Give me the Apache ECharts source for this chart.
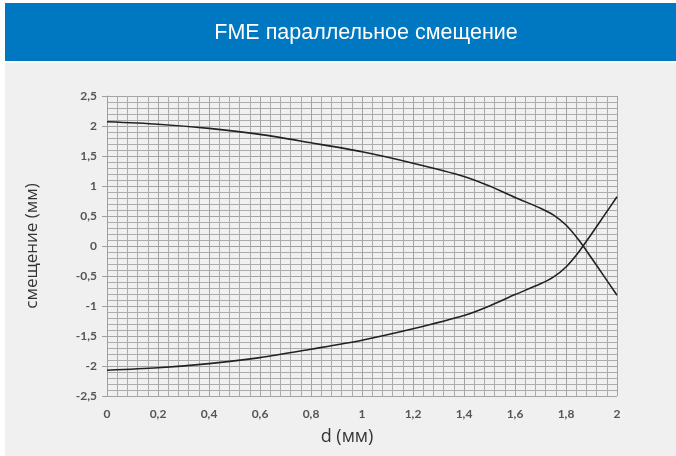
<!DOCTYPE html>
<html>
<head>
<meta charset="utf-8">
<script src="https://cdn.jsdelivr.net/npm/echarts@6/dist/echarts.min.js"></script>
<style>
html,body{margin:0;padding:0;background:#ffffff;}
#c{width:676px;height:456px;}
</style>
</head>
<body>
<div id="c"></div>
<script>
const titleText = "FME параллельное смещение";
const xName = "d (мм)";
const yName = "смещение (мм)";
const dValues = [0, 0.2, 0.4, 0.6, 0.8, 1.0, 1.2, 1.4, 1.5, 1.6, 1.7, 1.75, 1.8, 1.85, 1.9, 1.95, 2.0];
const upperValues = [2.07, 2.03, 1.96, 1.86, 1.72, 1.57, 1.38, 1.16, 1.00, 0.81, 0.63, 0.52, 0.35, 0.10, -0.20, -0.51, -0.82];
const lowerValues = [-2.07, -2.03, -1.96, -1.86, -1.72, -1.57, -1.38, -1.16, -1.00, -0.81, -0.63, -0.52, -0.35, -0.10, 0.20, 0.51, 0.82];

const chart = echarts.init(document.getElementById('c'));
const fmt = v => String(Math.round(v * 10) / 10).replace('.', ',');
const pairs = arr => dValues.map((d, i) => [d, arr[i]]);

chart.setOption({
  backgroundColor: '#ffffff',
  animation: false,
  graphic: [
    { type: 'rect', z: -10, shape: { x: 5, y: 63, width: 671, height: 393 }, style: { fill: '#f0f0f0' } },
    { type: 'rect', z: -10, shape: { x: 5, y: 3, width: 671, height: 58 }, style: { fill: '#0077c1' } },
    { type: 'text', z: 10, x: 366, y: 33,
      style: { text: titleText, fill: '#ffffff', align: 'center', verticalAlign: 'middle',
               font: '21.5px "Liberation Sans", Arial, sans-serif' } }
  ],
  grid: { left: 107, right: 59, top: 96, bottom: 60, containLabel: false },
  xAxis: {
    type: 'value', min: 0, max: 2, interval: 0.2,
    name: xName, nameLocation: 'middle', nameGap: 32,
    nameTextStyle: { fontSize: 18, color: '#333333', fontFamily: 'Open Sans, sans-serif', padding: [0, 30, 0, 0] },
    axisLine: { show: true, lineStyle: { color: '#a0a0a0' } },
    axisTick: { show: false },
    axisLabel: { formatter: fmt, color: '#555555', fontSize: 12, fontWeight: 'bold', fontFamily: 'Lato, sans-serif', margin: 12 },
    splitLine: { show: true, lineStyle: { color: '#a4a4a4', width: 1 } },
    minorTick: { show: false, splitNumber: 5 },
    minorSplitLine: { show: true, lineStyle: { color: '#acacac', width: 1 } }
  },
  yAxis: {
    type: 'value', min: -2.5, max: 2.5, interval: 0.5,
    name: yName, nameLocation: 'middle', nameGap: 66, nameRotate: 90,
    nameTextStyle: { fontSize: 17, color: '#333333', fontFamily: 'Open Sans, sans-serif' },
    axisLine: { show: true, lineStyle: { color: '#a0a0a0' } },
    axisTick: { show: true, length: 5, lineStyle: { color: '#a0a0a0' } },
    axisLabel: { formatter: fmt, color: '#555555', fontSize: 12, fontWeight: 'bold', fontFamily: 'Lato, sans-serif', margin: 10 },
    splitLine: { show: true, lineStyle: { color: '#a4a4a4', width: 1 } },
    minorTick: { show: false, splitNumber: 5 },
    minorSplitLine: { show: true, lineStyle: { color: '#acacac', width: 1 } }
  },
  series: [
    { type: 'line', data: pairs(upperValues), smooth: 0.3, symbol: 'none',
      lineStyle: { color: '#222222', width: 1.6 } },
    { type: 'line', data: pairs(lowerValues), smooth: 0.3, symbol: 'none',
      lineStyle: { color: '#222222', width: 1.6 } }
  ]
});
</script>
</body>
</html>
